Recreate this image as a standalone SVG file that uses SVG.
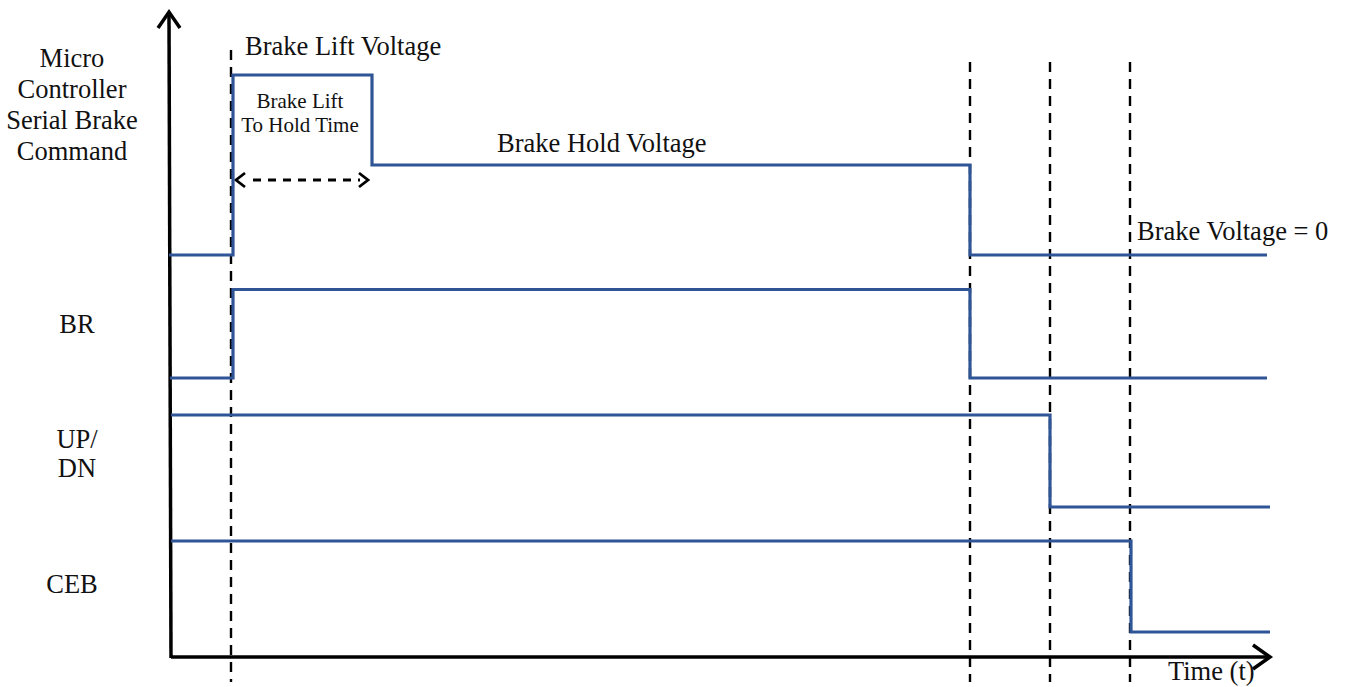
<svg xmlns="http://www.w3.org/2000/svg" width="1352" height="687" viewBox="0 0 1352 687">
<defs>
<style>
.sig{fill:none;stroke:#2F5597;stroke-width:3.2;stroke-linejoin:miter}
.ax{fill:none;stroke:#000;stroke-width:3.5}
.dash{fill:none;stroke:#000;stroke-width:2.4;stroke-dasharray:10,7}
.t{font-family:"Liberation Serif","Times New Roman",serif;fill:#111;font-size:26.5px}
.ts{font-family:"Liberation Serif","Times New Roman",serif;fill:#111;font-size:21px}
.lab{font-family:"Liberation Serif","Times New Roman",serif;fill:#111;font-size:26.5px;text-anchor:middle}
</style>
</defs>
<rect width="1352" height="687" fill="#fff"/>
<g id="connectors">
<line class="dash" x1="231" y1="50" x2="231" y2="682"/>
<line class="dash" x1="970" y1="62" x2="970" y2="682"/>
<line class="dash" x1="1050" y1="62" x2="1050" y2="682"/>
<line class="dash" x1="1130" y1="62" x2="1130" y2="682"/>
<line fill="none" stroke="#000" stroke-width="2.8" stroke-dasharray="8,7" x1="253" y1="180" x2="360" y2="180"/>
<polyline fill="none" stroke="#000" stroke-width="2.8" points="245,173 236,180 245,187"/>
<polyline fill="none" stroke="#000" stroke-width="2.8" points="359,173 368,180 359,187"/>
</g>
<g id="axes">
<line class="ax" x1="169" y1="14" x2="171" y2="658"/>
<polyline class="ax" points="158,28 169,12 180,28"/>
<line class="ax" x1="171" y1="657" x2="1268" y2="657"/>
<polyline class="ax" points="1253,645 1270,657 1253,669"/>
<text class="t" x="1168" y="680">Time (t)</text>
</g>
<g id="sig-micro">
<polyline class="sig" points="169,255 231,255 233,255 233,75 372,75 372,165 970,165 970,255 1267,255"/>
<text class="lab" x="72" y="67">Micro</text>
<text class="lab" x="72" y="98">Controller</text>
<text class="lab" x="72" y="129">Serial Brake</text>
<text class="lab" x="72" y="160">Command</text>
<text class="t" x="245" y="55">Brake Lift Voltage</text>
<text class="ts" x="300" y="108" text-anchor="middle">Brake Lift</text>
<text class="ts" x="300" y="132" text-anchor="middle">To Hold Time</text>
<text class="t" x="497" y="152">Brake Hold Voltage</text>
<text class="t" x="1137" y="240">Brake Voltage = 0</text>
</g>
<g id="sig-br">
<polyline class="sig" points="170,378 233,378 233,289.5 970,289.5 970,378 1267,378"/>
<text class="lab" x="77" y="333">BR</text>
</g>
<g id="sig-updn">
<polyline class="sig" points="171,415 1050,415 1050,507 1270,507"/>
<text class="lab" x="77" y="448">UP/</text>
<text class="lab" x="77" y="477">DN</text>
</g>
<g id="sig-ceb">
<polyline class="sig" points="171,541 1131,541 1131,632 1270,632"/>
<text class="lab" x="72" y="593">CEB</text>
</g>
</svg>
